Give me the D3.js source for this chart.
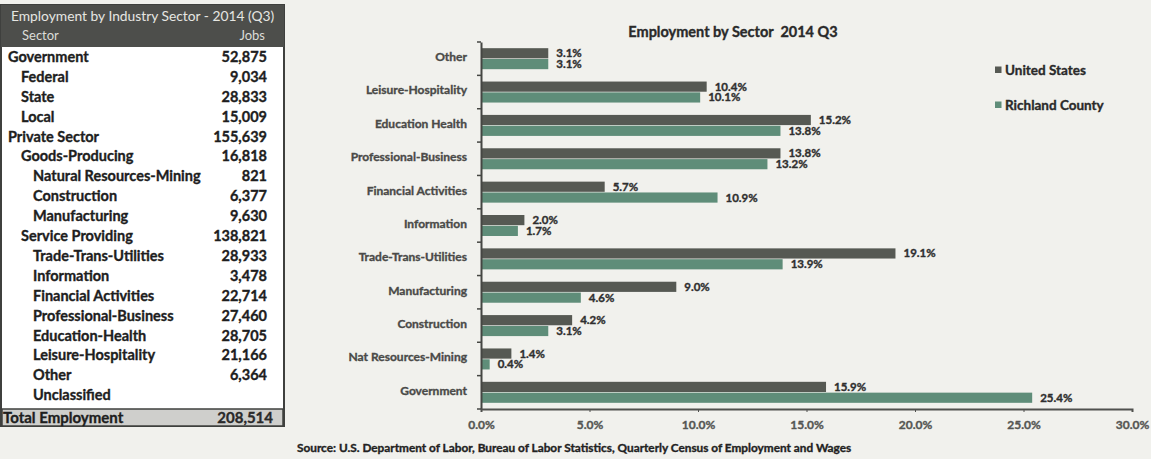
<!DOCTYPE html>
<html>
<head>
<meta charset="utf-8">
<script src="https://cdn.jsdelivr.net/npm/d3@7"></script>
<style>
  html, body { margin: 0; padding: 0; background: #f1f1ed; }
  svg { display: block; font-family: Lato, "Open Sans", sans-serif; }
</style>
</head>
<body>
<svg id="root" width="1151" height="459"></svg>
<script>
// ---- Table: employment by industry sector, Richland County 2014 Q3 ----
const tableTitle = "Employment by Industry Sector - 2014 (Q3)";
const tableSectors = ["Government", "Federal", "State", "Local", "Private Sector",
  "Goods-Producing", "Natural Resources-Mining", "Construction", "Manufacturing",
  "Service Providing", "Trade-Trans-Utilities", "Information", "Financial Activities",
  "Professional-Business", "Education-Health", "Leisure-Hospitality", "Other", "Unclassified"];
const tableLevels = [0, 1, 1, 1, 0, 1, 2, 2, 2, 1, 2, 2, 2, 2, 2, 2, 2, 2];
const tableJobs = [52875, 9034, 28833, 15009, 155639, 16818, 821, 6377, 9630,
  138821, 28933, 3478, 22714, 27460, 28705, 21166, 6364, null];
const totalJobs = 208514;

// ---- Chart: share of employment by sector (%) ----
const chartTitle = "Employment by Sector  2014 Q3";
const sectors = ["Other", "Leisure-Hospitality", "Education Health", "Professional-Business",
  "Financial Activities", "Information", "Trade-Trans-Utilities", "Manufacturing",
  "Construction", "Nat Resources-Mining", "Government"];
const seriesNames = ["United States", "Richland County"];
const usShare = [3.1, 10.4, 15.2, 13.8, 5.7, 2.0, 19.1, 9.0, 4.2, 1.4, 15.9];
const richlandShare = [3.1, 10.1, 13.8, 13.2, 10.9, 1.7, 13.9, 4.6, 3.1, 0.4, 25.4];
const xTicks = [0, 5, 10, 15, 20, 25, 30];
const sourceNote = "Source: U.S. Department of Labor, Bureau of Labor Statistics, Quarterly Census of Employment and Wages";

const svg = d3.select("#root");
const fmtJobs = d3.format(",");
const heavy = sel => sel.attr("font-weight", 700).attr("stroke-width", 0.35)
  .attr("stroke", function () { return d3.select(this).attr("fill"); });

// ================= Table =================
const T = { x: 1, y: 5, w: 283, headH: 42, rowH: 19.9, totalY: 409, totalH: 17 };
const tg = svg.append("g");

// body (white) and outer frame
tg.append("rect").attr("x", T.x).attr("y", T.y).attr("width", T.w).attr("height", T.totalY - T.y + T.totalH)
  .attr("fill", "#ffffff").attr("stroke", "#3f403e").attr("stroke-width", 2);
// dark header
tg.append("rect").attr("x", T.x).attr("y", T.y).attr("width", T.w).attr("height", T.headH)
  .attr("fill", "#4d4e4b");
tg.append("text").attr("x", 11).attr("y", 21).attr("fill", "#e6e6e2")
  .attr("font-size", 13.8).text(tableTitle);
tg.append("text").attr("x", 22).attr("y", 40).attr("fill", "#dcdcd8")
  .attr("font-size", 13).text("Sector");
tg.append("text").attr("x", 265).attr("y", 40).attr("fill", "#dcdcd8")
  .attr("font-size", 13).attr("text-anchor", "end").text("Jobs");

// rows
const rowY = d3.scaleBand().domain(d3.range(tableSectors.length))
  .range([47, 47 + T.rowH * tableSectors.length]);
const indentX = [8, 21, 33];
const rows = tg.selectAll("g.row").data(tableSectors).join("g").attr("class", "row")
  .attr("transform", (d, i) => `translate(0,${rowY(i) + rowY.bandwidth() / 2 + 5})`);
rows.append("text")
  .attr("x", (d, i) => indentX[tableLevels[i]])
  .attr("font-size", 14.5).attr("fill", "#1e1e1e")
  .text(d => d).call(heavy);
rows.append("text")
  .attr("x", 267).attr("text-anchor", "end")
  .attr("font-size", 14.5).attr("fill", "#1e1e1e")
  .text((d, i) => tableJobs[i] == null ? "" : fmtJobs(tableJobs[i])).call(heavy);

// total row
tg.append("rect").attr("x", T.x + 1).attr("y", T.totalY).attr("width", T.w - 2).attr("height", T.totalH)
  .attr("fill", "#cfcfcc").attr("stroke", "#3f403e").attr("stroke-width", 1.5);
tg.append("text").attr("x", 3).attr("y", T.totalY + 13.5).attr("font-size", 15)
  .attr("fill", "#1e1e1e").text("Total Employment").call(heavy);
tg.append("text").attr("x", 273).attr("y", T.totalY + 13.5).attr("font-size", 15)
  .attr("text-anchor", "end").attr("fill", "#2a2a2a").text(fmtJobs(totalJobs)).call(heavy);

// ================= Bar chart =================
const P = { left: 481, right: 1132, top: 42, bottom: 409 };
const x = d3.scaleLinear().domain([0, 30]).range([P.left, P.right]);
const y = d3.scaleBand().domain(sectors).range([P.top, P.bottom]);
const sub = d3.scaleBand().domain(seriesNames).range([y.bandwidth() / 2 - 10.5, y.bandwidth() / 2 + 10.5]).paddingInner(0.06);
const colors = { "United States": "#565953", "Richland County": "#5f8d79" };

const cg = svg.append("g");

// title
cg.append("text").attr("x", 733).attr("y", 37).attr("text-anchor", "middle")
  .attr("font-size", 14.5).attr("fill", "#2a2a2a")
  .style("white-space", "pre").text(chartTitle).call(heavy);

const rowsData = sectors.map((s, i) => ({ sector: s, values: [
  { series: seriesNames[0], v: usShare[i] },
  { series: seriesNames[1], v: richlandShare[i] }] }));

const grp = cg.selectAll("g.cat").data(rowsData).join("g").attr("class", "cat")
  .attr("transform", d => `translate(0,${y(d.sector)})`);
grp.selectAll("rect").data(d => d.values).join("rect")
  .attr("x", x(0)).attr("y", d => sub(d.series))
  .attr("width", d => x(d.v) - x(0)).attr("height", sub.bandwidth())
  .attr("fill", d => colors[d.series]);
grp.selectAll("text.val").data(d => d.values).join("text").attr("class", "val")
  .attr("x", d => x(d.v) + 8).attr("y", d => sub(d.series) + sub.bandwidth() / 2 + 4)
  .attr("font-size", 11.5).attr("fill", "#2f2f2f")
  .text(d => d3.format(".1f")(d.v) + "%").call(heavy);

// y axis
const yAxis = cg.append("g").attr("transform", `translate(${P.left},0)`)
  .call(d3.axisLeft(y).tickSize(0).tickPadding(14));
yAxis.select(".domain").attr("stroke", "#454643").attr("stroke-width", 2);
yAxis.selectAll("text").attr("font-size", 12).attr("fill", "#4a4a48")
  .attr("font-family", "Lato, sans-serif").attr("dy", "0.2em").call(heavy);
// category boundary tick marks
cg.append("g").selectAll("line").data(d3.range(sectors.length + 1)).join("line")
  .attr("x1", P.left - 4).attr("x2", P.left)
  .attr("y1", i => P.top + i * y.step()).attr("y2", i => P.top + i * y.step())
  .attr("stroke", "#454643").attr("stroke-width", 1.5);

// x axis
const xAxis = cg.append("g").attr("transform", `translate(0,${P.bottom})`)
  .call(d3.axisBottom(x).tickValues(xTicks).tickSize(3).tickPadding(8).tickFormat(d => d3.format(".1f")(d) + "%"));
xAxis.select(".domain").attr("stroke", "#50514e").attr("stroke-width", 2);
xAxis.selectAll("line").attr("stroke", "#50514e");
xAxis.selectAll("text").attr("font-size", 12).attr("fill", "#555653")
  .attr("font-family", "Lato, sans-serif").call(heavy);

// legend
const lg = cg.append("g").attr("transform", "translate(995,0)");
const ly = [75, 110];
seriesNames.forEach((s, i) => {
  lg.append("rect").attr("x", 0).attr("y", ly[i] - 8.5).attr("width", 6.5).attr("height", 6.5).attr("fill", colors[s]);
  lg.append("text").attr("x", 10).attr("y", ly[i]).attr("font-size", 13.5)
    .attr("fill", "#2a2a2a").text(s).call(heavy);
});

// source note
svg.append("text").attr("x", 297).attr("y", 452).attr("font-size", 11.8)
  .attr("fill", "#222").text(sourceNote).call(heavy);
</script>
</body>
</html>
